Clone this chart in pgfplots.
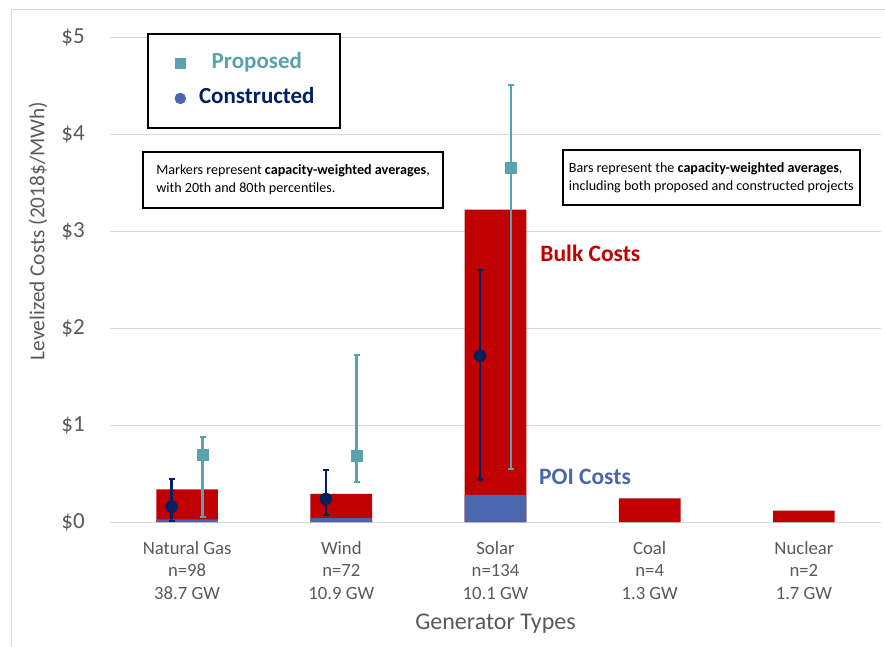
\documentclass[border=0pt]{standalone}
\usepackage{pgfplots}
\pgfplotsset{compat=1.18}
\usepackage{pgfplotstable}
\usepackage{fontspec}
\setmainfont{Carlito}

\definecolor{bulkred}{HTML}{C00000}
\definecolor{poiblue}{HTML}{4A66AC}
\definecolor{proposed}{HTML}{5AA2AE}
\definecolor{constructed}{HTML}{002060}
\definecolor{legdot}{HTML}{4A66AC}
\definecolor{txtgray}{HTML}{595959}
\definecolor{gridgray}{HTML}{D9D9D9}

% capacity-weighted averages: total (bulk + POI) and POI share
\pgfplotstableread{
cat total poi
0 0.337 0.028
1 0.290 0.040
2 3.220 0.280
3 0.244 0
4 0.117 0
}\bars

% constructed projects: average with 20th / 80th percentiles
\pgfplotstableread{
x avg p20 p80
-0.1 0.158 0.013 0.443
0.9 0.237 0.072 0.536
1.9 1.714 0.440 2.600
}\constructed

% proposed projects: average with 20th / 80th percentiles
\pgfplotstableread{
x avg p20 p80
0.1 0.694 0.050 0.876
1.1 0.687 0.412 1.720
2.1 3.657 0.546 4.505
}\proposed

\begin{document}
\begin{tikzpicture}[x=1pt,y=1pt]
\begin{axis}[
  name=ax,
  scale only axis, width=771pt, height=485pt,
  xmin=-0.5, xmax=4.5, ymin=0, ymax=5,
  clip=false,
  axis line style={draw=none},
  major tick length=0pt,
  ytick={0,1,2,3,4,5},
  yticklabels={\$0,\$1,\$2,\$3,\$4,\$5},
  yticklabel style={font=\fontsize{23}{23}\selectfont, text=txtgray,
    anchor=east, inner sep=0pt, xshift=-25pt},
  xtick={0,1,2,3,4},
  xticklabels={{Natural Gas\\n=98\\38.7 GW},{Wind\\n=72\\10.9 GW},
    {Solar\\n=134\\10.1 GW},{Coal\\n=4\\1.3 GW},{Nuclear\\n=2\\1.7 GW}},
  xticklabel style={font=\fontsize{18.7}{22.5}\selectfont, text=txtgray,
    align=center, anchor=north, inner sep=0pt, yshift=-19pt},
  ymajorgrids, grid style={gridgray, line width=1pt},
  ylabel={Levelized Costs (2018\$/MWh)},
  ylabel style={at={(rel axis cs:-0.0934,0.6)}, anchor=center,
    font=\fontsize{21.3}{21.3}\selectfont, text=txtgray},
  xlabel={Generator Types},
  xlabel style={at={(rel axis cs:0.5,-0.21)}, anchor=center,
    font=\fontsize{24}{24}\selectfont, text=txtgray},
  legend style={at={(rel axis cs:0.048,1.008)}, anchor=north west,
    draw=black, line width=1.6pt, fill=white,
    inner xsep=27pt, inner ysep=18pt, row sep=12pt,
    font=\fontsize{23}{23}\selectfont\bfseries,
    nodes={inner sep=0pt, text height=17pt, text depth=6pt},
    /tikz/every odd column/.append style={column sep=15pt}},
]
\addlegendimage{only marks, mark=square*, mark size=5pt, proposed,
  mark options={line width=0.4pt}}
\addlegendentry{\makebox[112pt]{\textcolor{proposed}{Proposed}}}
\addlegendimage{only marks, mark=*, mark size=5.5pt, legdot,
  mark options={line width=0.4pt}}
\addlegendentry{\makebox[112pt]{\textcolor{constructed}{Constructed}}}

% stacked cost bars: bulk drawn full height, POI overlaid at the base
\addplot[ybar, bar width=0.4, bar shift=0pt, fill=bulkred, draw=none, forget plot]
  table[x=cat, y=total] {\bars};
\addplot[ybar, bar width=0.4, bar shift=0pt, fill=poiblue, draw=none, forget plot]
  table[x=cat, y=poi] {\bars};

% markers with percentile whiskers
\addplot[only marks, mark=*, mark size=6pt, constructed,
  mark options={fill=constructed, draw=constructed, line width=0.4pt}, forget plot,
  error bars/.cd, y dir=both, y explicit,
  error bar style={line width=2.6pt, constructed},
  error mark options={rotate=90, mark size=3pt, line width=2.4pt, constructed}]
  table[x=x, y=avg, y error plus expr=\thisrow{p80}-\thisrow{avg},
    y error minus expr=\thisrow{avg}-\thisrow{p20}] {\constructed};
\addplot[only marks, mark=square*, mark size=5.5pt, proposed,
  mark options={fill=proposed, draw=proposed, line width=0.4pt}, forget plot,
  error bars/.cd, y dir=both, y explicit,
  error bar style={line width=2.6pt, proposed},
  error mark options={rotate=90, mark size=3pt, line width=2pt, proposed}]
  table[x=x, y=avg, y error plus expr=\thisrow{p80}-\thisrow{avg},
    y error minus expr=\thisrow{avg}-\thisrow{p20}] {\proposed};

% annotations
\node[anchor=west, inner sep=0pt, text=bulkred,
  font=\fontsize{23.5}{23.5}\selectfont\bfseries] at (axis cs:2.29,2.773) {Bulk Costs};
\node[anchor=west, inner sep=0pt, text=poiblue,
  font=\fontsize{23.5}{23.5}\selectfont\bfseries] at (axis cs:2.282,0.467) {POI Costs};
\node[draw=black, line width=1.6pt, fill=white, minimum height=56pt,
  minimum width=300pt, align=left,
  font=\fontsize{14.1}{18.3}\selectfont] at (axis cs:0.687,3.526)
  {Markers represent \textbf{capacity-weighted averages},\\with 20th and 80th percentiles.};
\node[draw=black, line width=1.6pt, fill=white, minimum height=55pt,
  minimum width=297pt, align=left,
  font=\fontsize{14.1}{18.3}\selectfont] at (axis cs:3.40,3.55)
  {Bars represent the \textbf{capacity-weighted averages},\\including both proposed and constructed projects};
\end{axis}
% page extent and chart frame, measured from the plot area's corner
\pgfresetboundingbox
\begin{scope}[shift={(ax.south west)}]
\path[use as bounding box] (-110,-125) rectangle (775,522);
\draw[gridgray, line width=1pt] (-98,-140) -- (-98,512) -- (790,512);
\end{scope}
\end{tikzpicture}
\end{document}
